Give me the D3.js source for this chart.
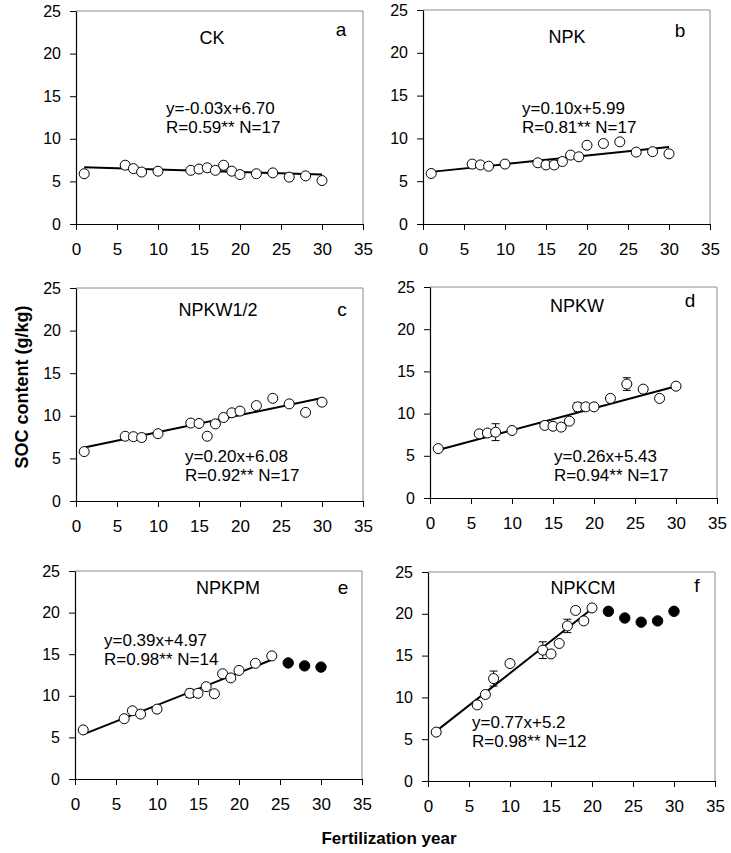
<!DOCTYPE html>
<html><head><meta charset="utf-8">
<script src="https://cdn.jsdelivr.net/npm/d3@7"></script>
<style>
html,body{margin:0;padding:0;background:#fff;}
svg{display:block;font-family:"Liberation Sans",Arial,sans-serif;}
</style></head>
<body>
<svg id="chart" width="731" height="853"></svg>
<script>
// ---------- data ----------
const panelNames   = ["CK","NPK","NPKW1/2","NPKW","NPKPM","NPKCM"];
const panelLetters = ["a","b","c","d","e","f"];
const equations    = ["y=-0.03x+6.70","y=0.10x+5.99","y=0.20x+6.08","y=0.26x+5.43","y=0.39x+4.97","y=0.77x+5.2"];
const statsText    = ["R=0.59** N=17","R=0.81** N=17","R=0.92** N=17","R=0.94** N=17","R=0.98** N=14","R=0.98** N=12"];
const slopes       = [-0.03, 0.10, 0.20, 0.26, 0.39, 0.77];
const intercepts   = [6.70, 5.99, 6.08, 5.43, 4.97, 5.2];
const fitStart     = [1, 1, 1, 1, 1, 1];
const fitEnd       = [30, 30, 30, 30, 24, 20];

const yearsAll   = [1,6,7,8,10,14,15,16,17,18,19,20,22,24,26,28,30];
const socCK      = [5.9,6.9,6.5,6.1,6.2,6.3,6.45,6.6,6.3,6.9,6.2,5.8,5.9,6.0,5.5,5.65,5.1];
const socNPK     = [5.9,7.0,6.9,6.75,7.0,7.15,6.9,6.9,7.3,8.05,7.85,9.2,9.4,9.6,8.4,8.45,8.2];
const socNPKW12  = [5.8,7.6,7.55,7.45,7.9,9.15,9.1,7.6,9.05,9.8,10.35,10.55,11.2,12.05,11.4,10.4,11.6];
const socNPKW    = [5.85,7.6,7.7,7.8,8.0,8.6,8.5,8.4,9.1,10.8,10.8,10.8,11.8,13.5,12.9,11.8,13.25];
const errNPKW    = [0,0,0,1.0,0,0,0,0,0,0.5,0,0,0,0.75,0,0,0];

const yearsPMopen  = [1,6,7,8,10,14,15,16,17,18,19,20,22,24];
const socPMopen    = [5.9,7.25,8.2,7.8,8.4,10.3,10.3,11.1,10.25,12.65,12.15,13.05,13.9,14.8];
const errPMopen    = [0,0,0,0,0,0.5,0,0,0,0,0,0,0,0];
const yearsPMfill  = [26,28,30];
const socPMfill    = [13.95,13.6,13.45];

const yearsCMopen  = [1,6,7,8,10,14,15,16,17,18,19,20];
const socCMopen    = [5.85,9.1,10.35,12.25,14.05,15.65,15.2,16.45,18.55,20.4,19.15,20.7];
const errCMopen    = [0,0,0,0.9,0,1.0,0,0,0.8,0,0,0];
const yearsCMfill  = [22,24,26,28,30];
const socCMfill    = [20.3,19.5,19.0,19.15,20.3];

const xTicks = [0,5,10,15,20,25,30,35];
const yTicks = [0,5,10,15,20,25];
const xLabel = "Fertilization year";
const yLabel = "SOC content (g/kg)";

const zeros = n => new Array(n).fill(0);
const openSets = [
  {x: yearsAll, y: socCK, e: zeros(17)},
  {x: yearsAll, y: socNPK, e: zeros(17)},
  {x: yearsAll, y: socNPKW12, e: zeros(17)},
  {x: yearsAll, y: socNPKW, e: errNPKW},
  {x: yearsPMopen, y: socPMopen, e: errPMopen},
  {x: yearsCMopen, y: socCMopen, e: errCMopen}
];
const filledSets = [null, null, null, null,
  {x: yearsPMfill, y: socPMfill},
  {x: yearsCMfill, y: socCMfill}];

// ---------- layout (pixels) ----------
const layout = [
  {l:76,  r:363, t:11,  b:224, name:[212,44],  letter:[341,36],  eq:[166,114]},
  {l:423, r:710, t:10,  b:224, name:[567,43],  letter:[680,37],  eq:[522,114]},
  {l:76,  r:363, t:288, b:501, name:[218,316], letter:[342,316], eq:[185,462]},
  {l:430, r:717, t:287, b:498, name:[577,312], letter:[690,307], eq:[554,462]},
  {l:75,  r:362, t:571, b:779, name:[228,594], letter:[343,594], eq:[104,646]},
  {l:428, r:715, t:572, b:781, name:[583,594], letter:[697,592], eq:[472,728]}
];

const svg = d3.select("#chart");
const FS = 17;

layout.forEach((L, i) => {
  const x = d3.scaleLinear().domain([0,35]).range([L.l, L.r]);
  const y = d3.scaleLinear().domain([0,25]).range([L.b, L.t]);
  const g = svg.append("g");

  // frame (top & right)
  g.append("path")
    .attr("d", `M${L.l},${L.t}H${L.r}V${L.b}`)
    .attr("fill","none").attr("stroke","#8c8c8c").attr("stroke-width",1);

  // axes
  const ax = g.append("g").attr("transform",`translate(0,${L.b})`)
    .call(d3.axisBottom(x).tickValues(xTicks).tickSize(6).tickPadding(10).tickSizeOuter(0));
  const ay = g.append("g").attr("transform",`translate(${L.l},0)`)
    .call(d3.axisLeft(y).tickValues(yTicks).tickSize(6).tickPadding(9).tickSizeOuter(0));
  [ax, ay].forEach(a => {
    a.select(".domain").attr("stroke","#000").attr("stroke-width",1.2);
    a.selectAll(".tick line").attr("stroke","#000").attr("stroke-width",1);
    a.selectAll(".tick text").attr("fill","#000")
      .style("font-family","'Liberation Sans', Arial, sans-serif").style("font-size","16px");
  });
  ax.selectAll(".tick text").style("font-size","17px").attr("dy","0.9em");

  // fit line
  const fx = [fitStart[i], fitEnd[i]];
  g.append("path")
    .datum(fx)
    .attr("d", d3.line().x(v => x(v)).y(v => y(slopes[i]*v + intercepts[i])))
    .attr("stroke","#000").attr("stroke-width",2).attr("fill","none");

  // error bars
  const os = openSets[i];
  const eb = os.x.map((v,k) => ({x:v, y:os.y[k], e:os.e[k]})).filter(d => d.e > 0);
  eb.forEach(d => {
    const cx = x(d.x), y1 = y(d.y + d.e), y2 = y(d.y - d.e);
    g.append("path")
      .attr("d", `M${cx},${y1}V${y2}M${cx-4},${y1}H${cx+4}M${cx-4},${y2}H${cx+4}`)
      .attr("stroke","#000").attr("stroke-width",1).attr("fill","none");
  });

  // open points
  g.selectAll("circle.open")
    .data(os.x.map((v,k) => ({x:v, y:os.y[k]})))
    .join("circle").attr("class","open")
    .attr("cx", d => x(d.x)).attr("cy", d => y(d.y)).attr("r", 5)
    .attr("fill","#fff").attr("stroke","#000").attr("stroke-width",1);

  // filled points
  const fs = filledSets[i];
  if (fs) {
    g.selectAll("circle.fill")
      .data(fs.x.map((v,k) => ({x:v, y:fs.y[k]})))
      .join("circle").attr("class","fill")
      .attr("cx", d => x(d.x)).attr("cy", d => y(d.y)).attr("r", 5.2)
      .attr("fill","#000").attr("stroke","#000").attr("stroke-width",1);
  }

  // annotations
  g.append("text").attr("x", L.name[0]).attr("y", L.name[1])
    .attr("text-anchor","middle").style("font-size","18px").text(panelNames[i]);
  g.append("text").attr("x", L.letter[0]).attr("y", L.letter[1])
    .attr("text-anchor","middle").style("font-size","19px").text(panelLetters[i]);
  g.append("text").attr("x", L.eq[0]).attr("y", L.eq[1])
    .style("font-size",FS+"px").text(equations[i]);
  g.append("text").attr("x", L.eq[0]).attr("y", L.eq[1] + 19)
    .style("font-size",FS+"px").text(statsText[i]);
});

// axis titles
svg.append("text").attr("x", 389).attr("y", 844)
  .attr("text-anchor","middle").style("font-size","17px").style("font-weight","bold")
  .text(xLabel);
svg.append("text")
  .attr("transform","translate(28,387) rotate(-90)")
  .attr("text-anchor","middle").style("font-size","18px").style("font-weight","bold")
  .text(yLabel);
</script>
</body></html>
